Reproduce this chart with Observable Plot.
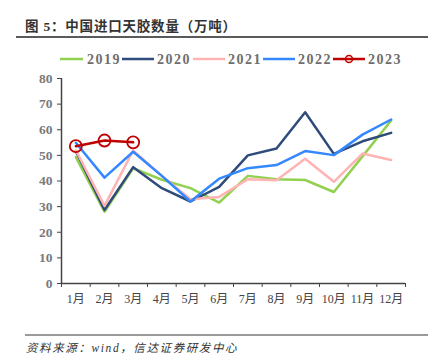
<!DOCTYPE html>
<html><head><meta charset="utf-8">
<script src="https://cdn.jsdelivr.net/npm/d3@7"></script>
<script src="https://cdn.jsdelivr.net/npm/@observablehq/plot@0.6"></script>
<style>
html,body{margin:0;padding:0;background:#fff;}
#wrap{position:relative;width:441px;height:361px;overflow:hidden;font-family:"Liberation Serif","Noto Sans CJK SC",serif;}
#title{position:absolute;left:25px;top:15px;font:bold 13.5px "Liberation Serif","Noto Sans CJK SC",serif;color:#333;letter-spacing:0.8px;white-space:nowrap;}
#rule1{position:absolute;left:16px;top:36px;width:412px;height:1.5px;background:#5a5a5a;}
#rule2{position:absolute;left:25px;top:334px;width:403px;height:2px;background:#9a9a9a;}
#src{position:absolute;left:26px;top:339px;font:italic 11.5px "Liberation Serif","Noto Sans CJK SC",serif;color:#333;white-space:nowrap;letter-spacing:1.6px;}
#legend{position:absolute;left:0;top:48px;}
#chart{position:absolute;left:0;top:0;}
</style></head>
<body><div id="wrap">
<div id="chart"></div>
<div id="title">图 5：中国进口天胶数量（万吨）</div>
<div id="rule1"></div>
<svg id="legend" width="441" height="22"></svg>
<div id="rule2"></div>
<div id="src">资料来源：wind，信达证券研发中心</div>
</div>
<script>
const months = ["1月","2月","3月","4月","5月","6月","7月","8月","9月","10月","11月","12月"];
const seriesNames = ["2019","2020","2021","2022","2023"];
const seriesColors = ["#92D050","#2F4B7C","#FFB3B3","#3388FF","#C00000"];
const v2019 = [49.3,28.0,45.0,40.5,37.2,31.6,42.0,40.7,40.4,35.7,49.6,63.6];
const v2020 = [51.6,28.7,45.4,37.2,32.0,37.7,50.0,52.7,66.8,50.6,55.5,58.8];
const v2021 = [52.0,30.3,51.9,42.0,32.9,33.8,40.7,40.3,48.7,39.7,50.7,48.2];
const v2022 = [54.9,41.3,51.4,42.0,32.0,40.9,45.0,46.2,51.7,50.1,58.1,64.0];
const v2023 = [53.6,55.8,55.1];
const yTicks = [0,10,20,30,40,50,60,70,80];

const allValues = [v2019,v2020,v2021,v2022,v2023];
const rows = [];
allValues.forEach((arr,si)=>arr.forEach((v,i)=>rows.push({series:seriesNames[si],m:i+1,v})));
const bySeries = s => rows.filter(r=>r.series===s);

const plot = Plot.plot({
  width:441, height:361,
  marginLeft:61, marginRight:36, marginTop:78, marginBottom:78,
  style:{fontFamily:"Liberation Serif, Noto Sans CJK SC, serif", fontSize:"13px", color:"#595959", background:"transparent"},
  x:{type:"linear", domain:[0.5,12.5]},
  y:{domain:[0,80]},
  marks:[
    Plot.axisY({ticks:yTicks, tickSize:4, tickPadding:5, label:null, fontSize:13.5, fontWeight:"bold", stroke:"#444", fill:"#7a7a7a", style:{letterSpacing:"1.5px"}}),
    Plot.axisX({ticks:d3.range(0.5,13,1), tickSize:4, tickFormat:()=>"", label:null, stroke:"#444"}),
    Plot.axisX({ticks:d3.range(1,13), tickSize:0, tickPadding:11, tickFormat:d=>months[d-1], label:null, fontSize:12, fill:"#444"}),
    Plot.ruleX([0.5],{stroke:"#444",strokeWidth:1.5}),
    Plot.ruleY([0],{stroke:"#444",strokeWidth:1.5}),
    ...seriesNames.map((s,i)=>Plot.lineY(bySeries(s),{x:"m",y:"v",stroke:seriesColors[i],strokeWidth:2.5})),
    Plot.dot(bySeries("2023"),{x:"m",y:"v",r:6,stroke:"#C00000",strokeWidth:1.8,fill:"none"})
  ]
});
document.getElementById("chart").appendChild(plot);

// legend
const leg = d3.select("#legend");
const lx = [60,122,193,263,333];
seriesNames.forEach((s,i)=>{
  const g = leg.append("g").attr("transform",`translate(${lx[i]},11)`);
  g.append("line").attr("x1",0).attr("x2",i===0?23:32).attr("stroke",seriesColors[i]).attr("stroke-width",2.5);
  if(s==="2023") g.append("circle").attr("cx",16).attr("r",3.5).attr("fill","none").attr("stroke",seriesColors[i]).attr("stroke-width",1.5);
  g.append("text").attr("x",i===0?27:35).attr("y",5).text(s)
   .attr("font-family","Liberation Serif, serif").attr("font-size",14).attr("font-weight","bold").attr("fill","#6e6e6e").attr("letter-spacing","1.5px");
});
</script>
</body></html>
